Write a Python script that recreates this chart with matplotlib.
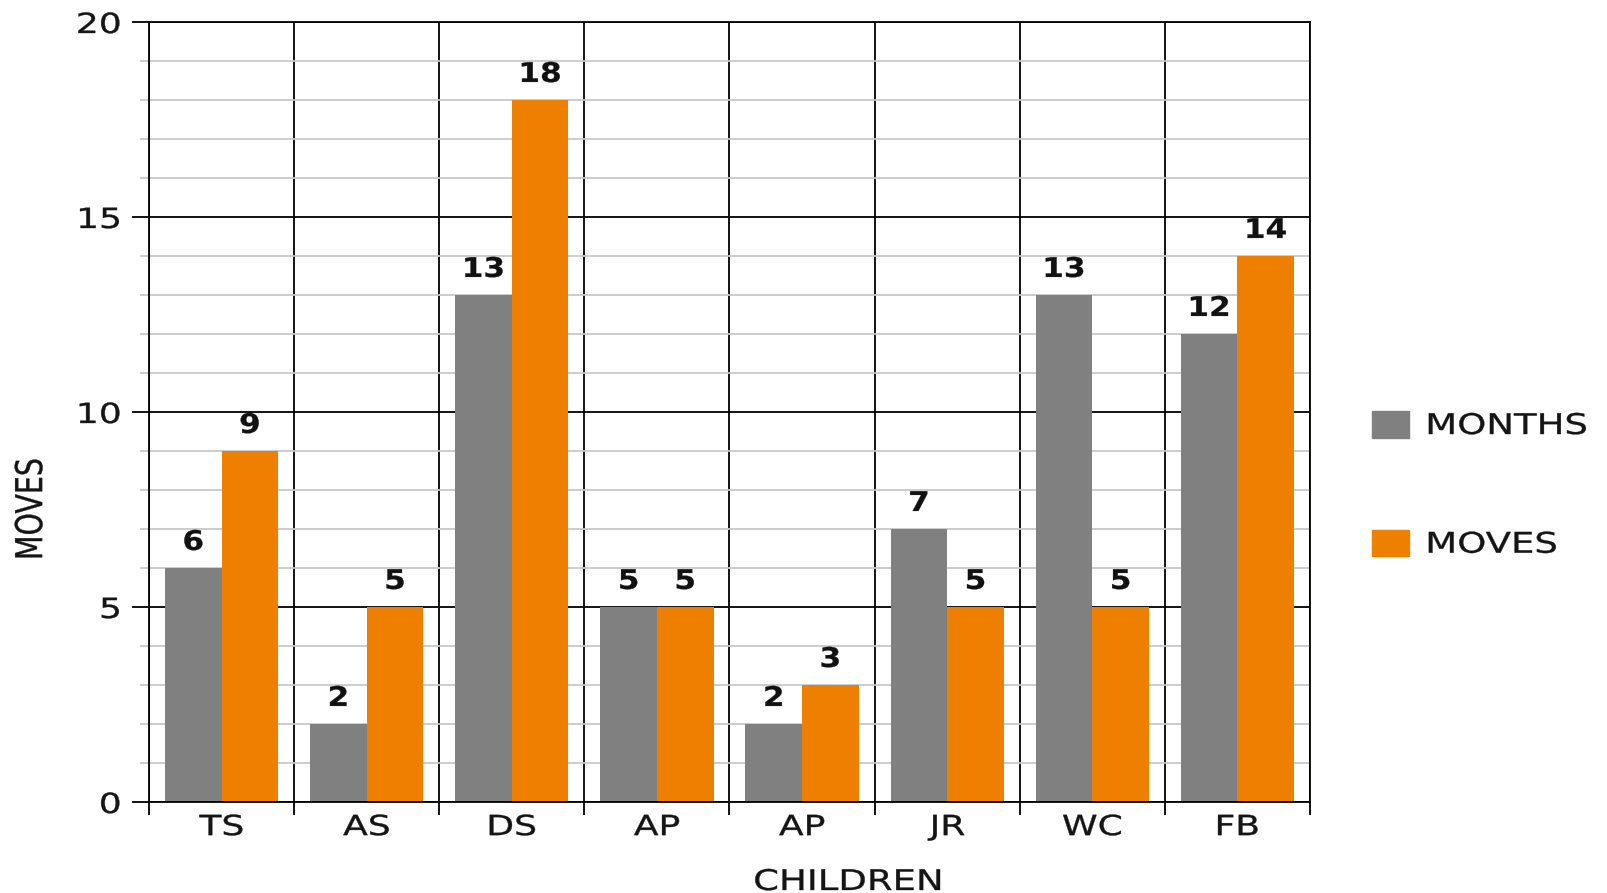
import matplotlib
matplotlib.use("Agg")
import matplotlib.pyplot as plt
import numpy as np
from matplotlib.patches import Patch
from matplotlib.patheffects import AbstractPathEffect
from matplotlib.transforms import Affine2D

# ---- data ----
children = ["TS", "AS", "DS", "AP", "AP", "JR", "WC", "FB"]
months = [6, 2, 13, 5, 2, 7, 13, 12]
moves = [9, 5, 18, 5, 3, 5, 5, 14]
series_names = ["MONTHS", "MOVES"]
y_ticks = [0, 5, 10, 15, 20]

GRAY = "#808080"
ORANGE = "#EE7F00"
TEXT = "#151515"
FONT = "DejaVu Sans"


class WideText(AbstractPathEffect):
    """Draw glyphs stretched horizontally (in display space) about an anchor,
    with a thin outline to give the strokes a little more weight."""

    def __init__(self, sx=1.3, anchor="center", stroke=0.25):
        super().__init__()
        self.sx = sx
        self.anchor = anchor
        self.stroke = stroke

    def draw_path(self, renderer, gc, tpath, affine, rgbFace=None):
        ext = tpath.get_extents(affine)
        if self.anchor == "left":
            cx = ext.x0
        elif self.anchor == "right":
            cx = ext.x1
        else:
            cx = 0.5 * (ext.x0 + ext.x1)
        stretch = Affine2D().translate(-cx, 0).scale(self.sx, 1.0).translate(cx, 0)
        gc0 = renderer.new_gc()
        gc0.copy_properties(gc)
        if self.stroke > 0 and rgbFace is not None:
            gc0.set_linewidth(self.stroke)
            gc0.set_foreground(rgbFace)
        renderer.draw_path(gc0, tpath, affine + stretch, rgbFace)
        gc0.restore()


W, H = 1608, 893
fig = plt.figure(figsize=(W / 100, H / 100), dpi=100)
left, right, top, bottom = 149, 1310, 22, 802
ax = fig.add_axes([left / W, 1 - bottom / H, (right - left) / W, (bottom - top) / H])

x = np.arange(len(children))
bw = 0.39
b1 = ax.bar(x - bw / 2, months, bw, color=GRAY, zorder=2, label=series_names[0])
b2 = ax.bar(x + bw / 2, moves, bw, color=ORANGE, zorder=2, label=series_names[1])

ax.set_xlim(-0.5, len(children) - 0.5)
ax.set_ylim(0, 20)
ax.set_axisbelow(True)

# y axis: major black lines every 5, light minor lines every 1
ax.set_yticks(y_ticks)
ax.set_yticks([v for v in range(1, 20) if v % 5], minor=True)
ax.yaxis.grid(True, which="major", color="black", lw=1.3)
ax.yaxis.grid(True, which="minor", color="#c8c8c8", lw=1.3)
ax.tick_params(axis="y", which="major", length=12, width=1.3, color="black",
               pad=8, labelsize=20)
ax.tick_params(axis="y", which="minor", length=6.5, width=1.3, color="#c8c8c8")

# x axis: labels at group centres, black dividers between groups
ax.set_xticks(x)
ax.set_xticklabels(children)
ax.set_xticks(np.arange(-0.5, len(children), 1.0), minor=True)
ax.xaxis.grid(True, which="minor", color="black", lw=1.3)
ax.xaxis.grid(False, which="major")
ax.tick_params(axis="x", which="major", length=0, pad=8, labelsize=20)
ax.tick_params(axis="x", which="minor", length=9.5, width=1.3, color="black")

for sp in ax.spines.values():
    sp.set_color("black")
    sp.set_linewidth(1.3)

for lab in ax.get_yticklabels():
    lab.set_fontfamily(FONT)
    lab.set_color(TEXT)
    lab.set_path_effects([WideText(1.3, "right")])
for lab in ax.get_xticklabels():
    lab.set_fontfamily(FONT)
    lab.set_color(TEXT)
    lab.set_path_effects([WideText(1.3, "center")])

# value labels
for bars, vals in ((b1, months), (b2, moves)):
    for rect, v in zip(bars, vals):
        t = ax.annotate(str(v), (rect.get_x() + rect.get_width() / 2, v),
                        xytext=(0, 13), textcoords="offset points",
                        ha="center", va="baseline", fontsize=19.5,
                        fontweight="bold", family=FONT, color="#111111")
        t.set_path_effects([WideText(1.15, "center", 0.2)])

# axis titles
yl = fig.text(31 / W, 1 - 509 / H, "MOVES", rotation=90, ha="center", va="center",
              fontsize=20.5, family=FONT, color=TEXT)
yl.set_path_effects([WideText(1.3, "center")])
xl = fig.text(848 / W, 1 - 882 / H, "CHILDREN", ha="center", va="center",
              fontsize=20.5, family=FONT, color=TEXT)
xl.set_path_effects([WideText(1.3, "center")])

# legend
handles = [Patch(color=GRAY), Patch(color=ORANGE)]
leg = fig.legend(handles, series_names, loc="upper left",
                 bbox_to_anchor=(1372 / W, 1 - 411 / H), frameon=False,
                 prop={"family": FONT, "size": 20.5},
                 handlelength=1.3, handleheight=1.06, handletextpad=0.6,
                 labelspacing=3.15, borderpad=0, borderaxespad=0)
for t in leg.get_texts():
    t.set_color(TEXT)
    t.set_path_effects([WideText(1.3, "left")])

fig.savefig("out.png", dpi=100, facecolor="white")
